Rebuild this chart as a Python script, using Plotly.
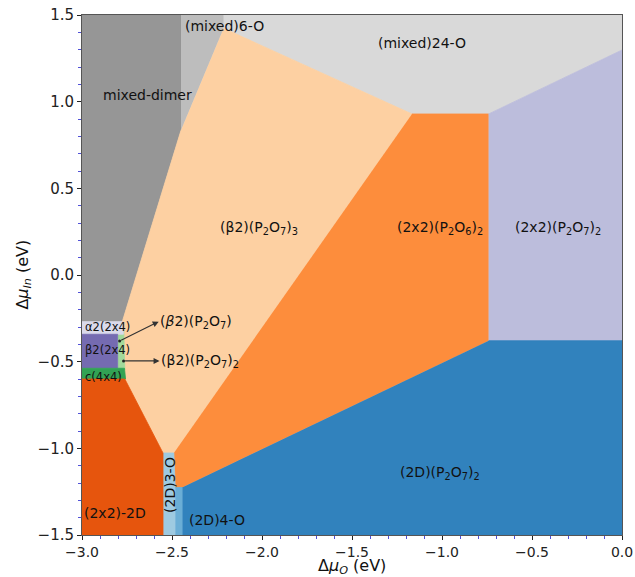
import plotly.graph_objects as go

# ---- phase-region vertices (data coordinates: Δμ_O, Δμ_In) ----
mixed_dimer_x = [-3.0, -2.45, -2.45, -2.776, -3.0]
mixed_dimer_y = [1.5, 1.5, 0.835, -0.269, -0.269]

mixed6_x = [-2.45, -2.213, -2.213, -2.45]
mixed6_y = [1.5, 1.5, 1.423, 0.835]

mixed24_x = [-2.213, 0.0, 0.0, -0.741, -1.167, -2.213]
mixed24_y = [1.5, 1.5, 1.298, 0.929, 0.929, 1.423]

b2p3_x = [-2.213, -1.167, -2.49, -2.55, -2.762, -2.768, -2.776, -2.45]
b2p3_y = [1.423, 0.929, -1.027, -1.027, -0.600, -0.317, -0.269, 0.835]

p2o6_x = [-1.167, -0.741, -0.741, -2.444, -2.482, -2.49]
p2o6_y = [0.929, 0.929, -0.379, -1.226, -1.226, -1.027]

p2o7_2x2_x = [-0.741, 0.0, 0.0, -0.741]
p2o7_2x2_y = [0.929, 1.298, -0.379, -0.379]

p2o7_2d_x = [-0.741, 0.0, 0.0, -2.444, -2.444]
p2o7_2d_y = [-0.379, -0.379, -1.5, -1.5, -1.226]

d3o_x = [-2.55, -2.49, -2.482, -2.482, -2.55]
d3o_y = [-1.027, -1.027, -1.226, -1.5, -1.5]

d4o_x = [-2.482, -2.444, -2.444, -2.482]
d4o_y = [-1.226, -1.226, -1.5, -1.5]

lgreen_x = [-2.802, -2.768, -2.762, -2.802]
lgreen_y = [-0.317, -0.317, -0.548, -0.548]

a2_x = [-3.0, -2.776, -2.770, -3.0]
a2_y = [-0.269, -0.269, -0.342, -0.342]

b2_x = [-3.0, -2.802, -2.802, -3.0]
b2_y = [-0.342, -0.342, -0.538, -0.538]

c44_x = [-3.0, -2.764, -2.758, -3.0]
c44_y = [-0.538, -0.538, -0.600, -0.600]

red_x = [-3.0, -2.762, -2.55, -2.55, -3.0]
red_y = [-0.600, -0.600, -1.027, -1.5, -1.5]

regions = [
    (mixed_dimer_x, mixed_dimer_y, "#969696"),
    (mixed6_x, mixed6_y, "#bdbdbd"),
    (mixed24_x, mixed24_y, "#d9d9d9"),
    (b2p3_x, b2p3_y, "#fdd0a2"),
    (p2o6_x, p2o6_y, "#fd8d3c"),
    (p2o7_2x2_x, p2o7_2x2_y, "#bcbddc"),
    (p2o7_2d_x, p2o7_2d_y, "#3182bd"),
    (d3o_x, d3o_y, "#9ecae1"),
    (d4o_x, d4o_y, "#6baed6"),
    (lgreen_x, lgreen_y, "#a1d99b"),
    (a2_x, a2_y, "#dadaeb"),
    (b2_x, b2_y, "#756bb1"),
    (c44_x, c44_y, "#31a354"),
    (red_x, red_y, "#e6550d"),
]

# ---- labels ----
label_text = ["mixed-dimer", "(mixed)6-O", "(mixed)24-O",
              "(β2)(P<sub>2</sub>O<sub>7</sub>)<sub>3</sub>",
              "(2x2)(P<sub>2</sub>O<sub>6</sub>)<sub>2</sub>",
              "(2x2)(P<sub>2</sub>O<sub>7</sub>)<sub>2</sub>",
              "(2D)(P<sub>2</sub>O<sub>7</sub>)<sub>2</sub>",
              "(2x2)-2D", "(2D)4-O"]
label_x = [-2.637, -2.209, -1.109, -2.014, -1.009, -0.354, -1.009, -2.815, -2.248]
label_y = [1.038, 1.437, 1.338, 0.271, 0.271, 0.271, -1.142, -1.373, -1.414]

small_text = ["α2(2x4)", "β2(2x4)", "c(4x4)"]
small_y = [-0.300, -0.433, -0.587]

arrow_text = ["(<i>β</i>2)(P<sub>2</sub>O<sub>7</sub>)", "(β2)(P<sub>2</sub>O<sub>7</sub>)<sub>2</sub>"]
arrow_tail_x = [-2.791, -2.769]
arrow_tail_y = [-0.381, -0.496]
arrow_head_x = [-2.574, -2.569]
arrow_head_y = [-0.269, -0.496]

x_ticks = [-3.0, -2.5, -2.0, -1.5, -1.0, -0.5, 0.0]
x_ticktext = ["−3.0", "−2.5", "−2.0", "−1.5", "−1.0", "−0.5", "0.0"]
y_ticks = [-1.5, -1.0, -0.5, 0.0, 0.5, 1.0, 1.5]
y_ticktext = ["−1.5", "−1.0", "−0.5", "0.0", "0.5", "1.0", "1.5"]

FONT = "DejaVu Sans"

fig = go.Figure()
for xs, ys, col in regions:
    fig.add_trace(go.Scatter(x=xs, y=ys, fill="toself", fillcolor=col, mode="lines",
                             line=dict(color=col, width=0.8), hoverinfo="skip",
                             showlegend=False))

# arrow tail dots
fig.add_trace(go.Scatter(x=arrow_tail_x, y=arrow_tail_y, mode="markers",
                         marker=dict(color="#222", size=3), showlegend=False, hoverinfo="skip"))

ann = []
for t, x, y in zip(label_text, label_x, label_y):
    ann.append(dict(x=x, y=y, text=t, showarrow=False, font=dict(size=14, color="#111", family=FONT),
                    xanchor="center", yanchor="middle"))
ann.append(dict(x=-2.51, y=-1.21, text="(2D)3-O", textangle=-90, showarrow=False,
                font=dict(size=14, color="#111", family=FONT), xanchor="center", yanchor="middle"))
for t, y in zip(small_text, small_y):
    ann.append(dict(x=-2.997, y=y, text=t, showarrow=False, font=dict(size=11.5, color="#111", family=FONT),
                    xanchor="left", yanchor="middle"))
for t, tx, ty, hx, hy in zip(arrow_text, arrow_tail_x, arrow_tail_y, arrow_head_x, arrow_head_y):
    ann.append(dict(x=hx, y=hy, ax=tx, ay=ty, axref="x", ayref="y", xref="x", yref="y",
                    text="", showarrow=True, arrowhead=2, arrowsize=1, arrowwidth=1.2,
                    arrowcolor="#333"))
    ann.append(dict(x=hx - 0.005, y=hy, text=t, showarrow=False, xanchor="left", yanchor="middle",
                    font=dict(size=14, color="#111", family=FONT)))

# axis titles
ann.append(dict(xref="paper", yref="paper", x=0.5, y=-0.061, text="Δ<i>μ</i><sub><i>O</i></sub> (eV)",
                showarrow=False, xanchor="center", yanchor="middle",
                font=dict(size=16, color="#111", family=FONT)))
ann.append(dict(xref="paper", yref="paper", x=-0.11, y=0.5, text="Δ<i>μ</i><sub><i>In</i></sub> (eV)",
                textangle=-90, showarrow=False, xanchor="center", yanchor="middle",
                font=dict(size=16, color="#111", family=FONT)))

fig.update_layout(
    width=635, height=577,
    margin=dict(l=82, r=13, t=15, b=42, autoexpand=False),
    plot_bgcolor="white", paper_bgcolor="white",
    font=dict(family=FONT, size=14, color="#222"),
    annotations=ann,
    xaxis=dict(range=[-3, 0], tickvals=x_ticks, ticktext=x_ticktext, ticks="outside", ticklen=4,
               tickcolor="#222", showgrid=False, zeroline=False, showline=True, mirror=True,
               linecolor="#555", linewidth=1, tickfont=dict(size=14), automargin=False,
               minor=dict(tick0=0, dtick=0.1, ticks="outside", ticklen=3, tickcolor="#5050d8")),
    yaxis=dict(range=[-1.5, 1.5], tickvals=y_ticks, ticktext=y_ticktext, ticks="outside", ticklen=4,
               tickcolor="#222", showgrid=False, zeroline=False, showline=True, mirror=True,
               linecolor="#555", linewidth=1, tickfont=dict(size=15), automargin=False,
               minor=dict(tick0=0, dtick=0.1, ticks="outside", ticklen=3, tickcolor="#5050d8")),
)

fig.write_html("out.html", config={"displayModeBar": False},
               post_script="document.body.style.margin='0px';")
